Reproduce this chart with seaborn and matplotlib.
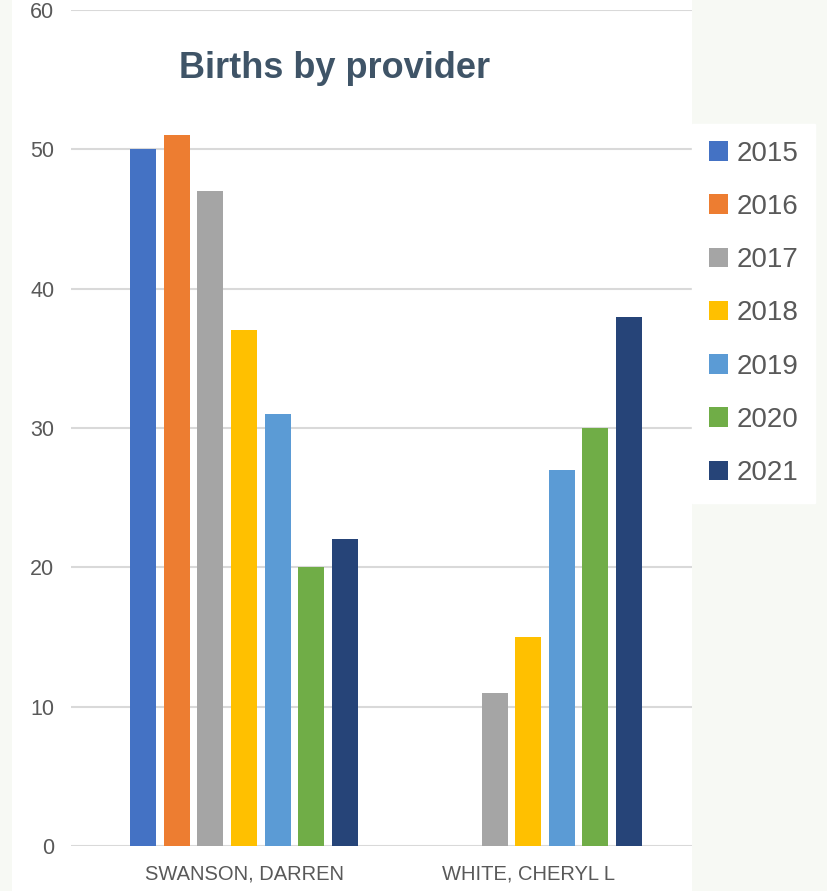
import matplotlib
matplotlib.use("Agg")
import matplotlib.pyplot as plt
import pandas as pd
import seaborn as sns
from matplotlib.patches import Rectangle

# data
providers = ["SWANSON, DARREN", "WHITE, CHERYL L"]
years = ["2015", "2016", "2017", "2018", "2019", "2020", "2021"]
swanson = [50, 51, 47, 37, 31, 20, 22]
white = [0, 0, 11, 15, 27, 30, 38]
colors = ["#4472C4", "#ED7D31", "#A5A5A5", "#FFC000", "#5B9BD5", "#70AD47", "#264478"]

df = pd.DataFrame({
    "provider": [providers[0]] * len(years) + [providers[1]] * len(years),
    "year": years + years,
    "births": swanson + white,
})

sns.set_style("white")
plt.rcParams["font.family"] = ["Liberation Sans", "DejaVu Sans"]

W, H = 828, 891
fig = plt.figure(figsize=(W / 100, H / 100), dpi=100, facecolor="#f7f9f4")

# white chart panel behind everything
fig.patches.append(Rectangle((12 / W, 0), (692 - 12) / W, 1, transform=fig.transFigure,
                             facecolor="white", edgecolor="none", zorder=-5))

ax = fig.add_axes([71 / W, 1 - 846 / H, (692 - 71) / W, (846 - 10) / H])
ax.set_zorder(1)
ax.set_facecolor("white")

sns.barplot(data=df, x="provider", y="births", hue="year", hue_order=years,
            palette=colors, width=0.826, gap=0.225, linewidth=0,
            saturation=1, ax=ax, legend=True)

ax.set_ylim(0, 60)
ax.set_xlim(-0.609, 1.577)
ax.set_yticks(range(0, 61, 10))
ax.yaxis.grid(True, color="#d9d9d9", linewidth=1.5)
ax.set_axisbelow(True)
for s in ax.spines.values():
    s.set_visible(False)
ax.tick_params(axis="y", length=0, pad=12, labelsize=15.5, labelcolor="#595959")
ax.tick_params(axis="x", length=0, pad=13, labelsize=14.5, labelcolor="#595959")
ax.set_xlabel("")
ax.set_ylabel("")

handles, labels = ax.get_legend_handles_labels()
ax.get_legend().remove()
leg = fig.legend(handles, labels, loc="upper left",
                 bbox_to_anchor=(692 / W, 1 - 124 / H), borderaxespad=0,
                 frameon=True, fancybox=False, fontsize=20,
                 handlelength=0.7, handleheight=0.7, handletextpad=0.3,
                 labelspacing=0.98, borderpad=0.6)
leg.get_frame().set_facecolor("white")
leg.get_frame().set_edgecolor("white")
leg.get_frame().set_alpha(1)
leg.set_zorder(2)
for t in leg.get_texts():
    t.set_color("#595959")

fig.text(335 / W, 1 - 69 / H, "Births by provider", ha="center", va="center",
         fontsize=26, fontweight="bold", color="#3f5467", zorder=3)

fig.savefig("out.png", dpi=100, facecolor=fig.get_facecolor())
